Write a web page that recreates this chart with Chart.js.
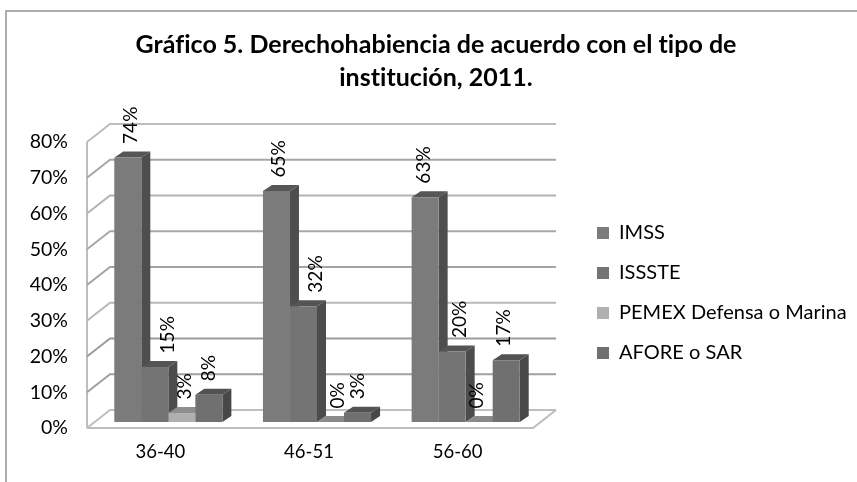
<!DOCTYPE html>
<html><head><meta charset="utf-8">
<style>html,body{margin:0;padding:0;background:#fff}canvas{display:block}</style>
<script src="https://cdn.jsdelivr.net/npm/chart.js@4"></script>
</head><body><canvas id="c" width="857" height="482"></canvas>
<script>
const categories = ['36-40','46-51','56-60'];
const imss = [74, 64.6, 62.9];
const issste = [15.4, 32.4, 19.7];
const pemex = [2.5, 0, 0];
const afore = [7.6, 2.6, 17.3];
const titleLines = ['Gráfico 5. Derechohabiencia de acuerdo con el tipo de','institución, 2011.'];

const FONT = 'Lato, Carlito, Calibri, sans-serif';
const depth = {dx: 9, dy: 6};
const wall = {dx: 16, dyBack: -12, dxFront: -7, dyFront: 6};
const faces = [
  {side:'#4e4e4e', top:'#565656'},
  {side:'#4c4c4c', top:'#545454'},
  {side:'#7e7e7e', top:'#8e8e8e'},
  {side:'#484848', top:'#525252'}
];
const gridShade = ['#bfbfbf','#a0a0a0','#9c9c9c','#b8b8b8','#a4a4a4','#a8a8a8','#b2b2b2','#a6a6a6','#bdbdbd'];
const labelShift = [[3,13,3,0],[2,12,7,0],[-1,8,-2,-2]];

const scene = {
  id:'scene',
  afterLayout(chart){
    chart.titleBlock.left = 8; chart.titleBlock.right = 864;
    chart.legend.left = 577; chart.legend.right = 857;
    chart.legend.top = 203; chart.legend.bottom = 482;
  },
  beforeDraw(chart){
    const {ctx,width,height} = chart;
    ctx.letterSpacing='0.02px';
    ctx.save();
    ctx.fillStyle='#fff'; ctx.fillRect(0,0,width,height);
    ctx.strokeStyle='#929292'; ctx.lineWidth=1.5;
    ctx.beginPath(); ctx.moveTo(6,height); ctx.lineTo(6,11); ctx.lineTo(width,11); ctx.stroke();
    ctx.restore();
  },
  beforeDatasetsDraw(chart){
    const {ctx,chartArea:a,scales:{y}} = chart;
    ctx.save();
    const bl=a.left+wall.dx, br=a.right+wall.dx, fl=a.left+wall.dxFront, fr=br-(wall.dx-wall.dxFront);
    const backY=v=>y.getPixelForValue(v)+wall.dyBack, frontY=v=>y.getPixelForValue(v)+wall.dyFront;
    ctx.lineWidth=2; ctx.strokeStyle='#bdbdbd';
    ctx.beginPath(); ctx.moveTo(fl,frontY(80)); ctx.lineTo(fl,frontY(0)); ctx.stroke();
    y.ticks.forEach((t,i)=>{
      ctx.strokeStyle=gridShade[i];
      ctx.beginPath();
      ctx.moveTo(fl,frontY(t.value)); ctx.lineTo(bl,backY(t.value)); ctx.lineTo(br,backY(t.value));
      ctx.stroke();
    });
    ctx.strokeStyle='#bdbdbd';
    ctx.beginPath(); ctx.moveTo(fl,frontY(0)); ctx.lineTo(fr,frontY(0)); ctx.lineTo(br,backY(0)); ctx.stroke();
    chart.data.datasets.forEach((ds,di)=>{
      chart.getDatasetMeta(di).data.forEach(el=>{
        const h=el.getProps(['x','y','base','width'],true);
        const x0=h.x-h.width/2, x1=h.x+h.width/2;
        if(h.base-h.y>0.5){
          ctx.fillStyle=faces[di].side;
          ctx.beginPath(); ctx.moveTo(x1,h.y); ctx.lineTo(x1+depth.dx,h.y-depth.dy);
          ctx.lineTo(x1+depth.dx,h.base-depth.dy); ctx.lineTo(x1,h.base); ctx.closePath(); ctx.fill();
        }
        ctx.fillStyle=h.base-h.y>0.5?faces[di].top:'#8a8a8a';
        ctx.beginPath(); ctx.moveTo(x0,h.y); ctx.lineTo(x0+depth.dx,h.y-depth.dy);
        ctx.lineTo(x1+depth.dx,h.y-depth.dy); ctx.lineTo(x1,h.y); ctx.closePath(); ctx.fill();
      });
    });
    ctx.restore();
  },
  afterDatasetsDraw(chart){
    const {ctx} = chart;
    ctx.save();
    ctx.fillStyle='#000'; ctx.font='19px '+FONT; ctx.textAlign='left'; ctx.textBaseline='middle';
    chart.data.datasets.forEach((ds,di)=>{
      chart.getDatasetMeta(di).data.forEach((el,ci)=>{
        const h=el.getProps(['x','y'],true);
        ctx.save();
        ctx.translate(h.x+labelShift[ci][di], h.y-depth.dy-7.5);
        ctx.rotate(-Math.PI/2);
        ctx.fillText(Math.round(ds.data[ci])+'%',0,0);
        ctx.restore();
      });
    });
    ctx.restore();
  }
};

new Chart(document.getElementById('c'),{
  type:'bar',
  data:{labels:categories,datasets:[
    {label:'IMSS',data:imss,backgroundColor:'#7b7b7b'},
    {label:'ISSSTE',data:issste,backgroundColor:'#747474'},
    {label:'PEMEX Defensa o Marina',data:pemex,backgroundColor:'#b0b0b0'},
    {label:'AFORE o SAR',data:afore,backgroundColor:'#707070'}
  ]},
  options:{
    responsive:false,animation:false,devicePixelRatio:1,
    layout:{padding:{left:0,right:117,top:0,bottom:0}},
    datasets:{bar:{categoryPercentage:0.727,barPercentage:1,borderWidth:0}},
    scales:{
      x:{grid:{display:false,drawTicks:false},border:{display:false},
         ticks:{color:'#000',font:{family:FONT,size:18.5},padding:19,labelOffset:-8,maxRotation:0},
         afterFit(s){s.height=60;}},
      y:{min:0,max:80,grid:{display:false,drawTicks:false},border:{display:false},
         ticks:{stepSize:10,color:'#000',font:{family:FONT,size:19.5},padding:26,labelOffset:6,callback:v=>v+'%'},
         afterFit(s){s.width=94;}}
    },
    plugins:{
      title:{display:true,text:titleLines,color:'#000',align:'center',
        font:{family:FONT,size:25,weight:'bold',lineHeight:'33px'},padding:{top:28,bottom:42}},
      legend:{display:true,position:'right',align:'start',maxWidth:200,
        labels:{boxWidth:12,boxHeight:12,padding:20,color:'#000',font:{family:FONT,size:20,lineHeight:'20px'}}},
      tooltip:{enabled:false}
    }
  },
  plugins:[scene]
});
</script></body></html>
